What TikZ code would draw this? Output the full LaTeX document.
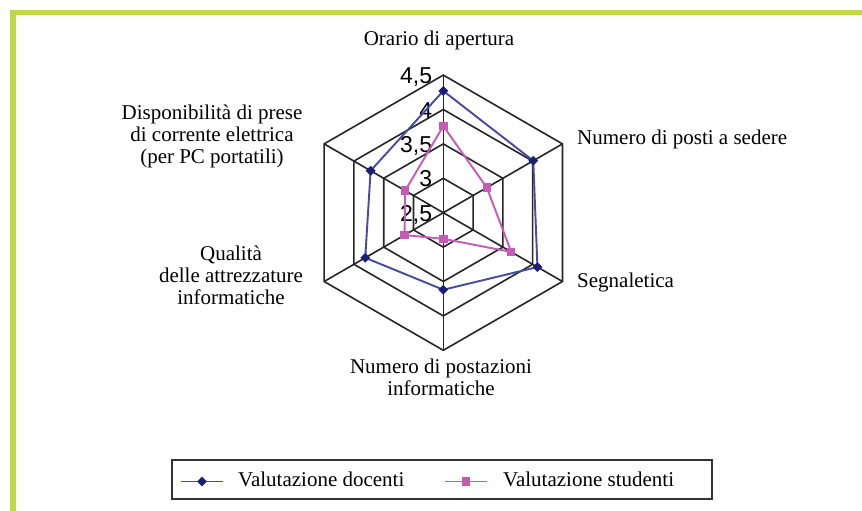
\documentclass[tikz,border=0pt]{standalone}
\usepackage{fontspec}
\setmainfont{Liberation Serif}
\newfontfamily\ticksfont{Liberation Sans}
\usetikzlibrary{shapes.geometric}
\definecolor{framegreen}{RGB}{192,216,72}
\definecolor{docblue}{RGB}{72,72,165}
\definecolor{docnavy}{RGB}{30,30,115}
\definecolor{stumag}{RGB}{200,90,180}
\begin{document}
\begin{tikzpicture}[x=1pt,y=-1pt,
  ring/.style={draw=black!85, line width=1.6pt},
  lab/.style={font=\fontsize{21}{22}\selectfont, inner sep=0pt, align=center},
  ticklab/.style={font=\ticksfont\fontsize{23}{23}\selectfont, anchor=base east, inner sep=0pt},
  docline/.style={draw=docblue, line width=1.9pt},
  stuline/.style={draw=stumag, line width=1.9pt},
  docmk/.style={diamond, fill=docnavy, inner sep=0pt, minimum size=10pt},
  stumk/.style={rectangle, fill=stumag, inner sep=0pt, minimum size=8.5pt}]
\useasboundingbox (0,0) rectangle (862,511);
\fill[white] (0,0) rectangle (862,511);
\draw[framegreen, line width=5.5pt] (13,511) -- (13,12.5) -- (862,12.5);

% hexagon grid, 2,5 in the centre, 0,5 = 34.4
\begin{scope}[shift={(443.3,212.7)}]
\foreach \r in {34.4,68.8,103.2,137.6}
  \draw[ring] (-90:\r) -- (-30:\r) -- (30:\r) -- (90:\r) -- (150:\r) -- (210:\r) -- cycle;
\foreach \a in {-90,-30,...,210}
  \draw[ring] (0,0) -- (\a:137.6);

\foreach \v/\t [count=\i] in {0/{2,5},34.4/3,68.8/{3,5},103.2/4,137.6/{4,5}}
  \node[ticklab] (t\i) at (-11,-\v+8.5) {\t};

% docenti
\coordinate (d1) at (-90:{(4.27-2.5)*68.8});
\coordinate (d2) at (-30:{(4.01-2.5)*68.8});
\coordinate (d3) at (30:{(4.08-2.5)*68.8});
\coordinate (d4) at (90:{(3.62-2.5)*68.8});
\coordinate (d5) at (150:{(3.81-2.5)*68.8});
\coordinate (d6) at (210:{(3.72-2.5)*68.8});
% studenti
\coordinate (s1) at (-90:{(3.76-2.5)*68.8});
\coordinate (s2) at (-30:{(3.23-2.5)*68.8});
\coordinate (s3) at (30:{(3.64-2.5)*68.8});
\coordinate (s4) at (90:{(2.88-2.5)*68.8});
\coordinate (s5) at (150:{(3.15-2.5)*68.8});
\coordinate (s6) at (210:{(3.14-2.5)*68.8});

\draw[stuline] (s1) -- (s2) -- (s3) -- (s4) -- (s5) -- (s6) -- cycle;
\draw[docline] (d1) -- (d2) -- (d3) -- (d4) -- (d5) -- (d6) -- cycle;
\foreach \i in {1,...,6} {
  \node[stumk] (sm\i) at (s\i) {};
  \node[docmk] (dm\i) at (d\i) {};
}
\end{scope}

\node[lab, anchor=base] (orario) at (439,45.7) {Orario di apertura};
\node[lab, anchor=base west] (posti) at (577,144) {Numero di posti a sedere};
\node[lab, anchor=base west] (segn) at (577,287) {Segnaletica};
\node[lab, anchor=north] (postaz) at (441,359) {Numero di postazioni\\informatiche};
\node[lab, anchor=north] (qual) at (231,246) {Qualità\\delle attrezzature\\informatiche};
\node[lab, anchor=north] (disp) at (212,105) {Disponibilità di prese\\di corrente elettrica\\(per PC portatili)};

% legend
\draw[draw=black!80, line width=2pt] (172,460) rectangle (712,499);
\coordinate (la) at (181,481.5);
\coordinate (lb) at (223,481.5);
\coordinate (lc) at (445,481.5);
\coordinate (ld) at (487,481.5);
\draw[docline] (la) -- (lb);
\draw[stuline] (lc) -- (ld);
\node[docmk] (lm1) at (202,481.5) {};
\node[stumk] (lm2) at (466,481.5) {};
\node[lab, anchor=base west] (ltd) at (238,486) {Valutazione docenti};
\node[lab, anchor=base west] (lts) at (503,486) {Valutazione studenti};
\end{tikzpicture}
\end{document}
